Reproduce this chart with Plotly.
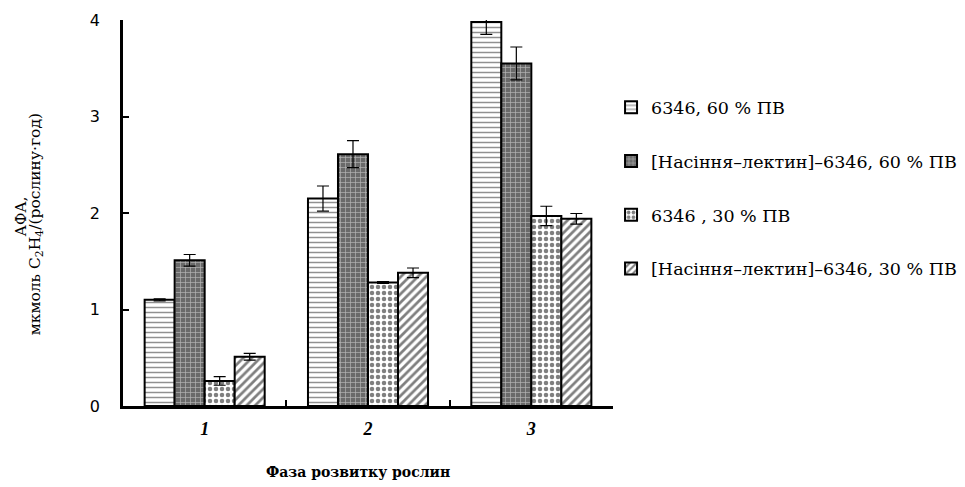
import plotly.graph_objects as go

categories = ["1", "2", "3"]
series_names = [
    "6346, 60 % ПВ",
    "[Насіння–лектин]–6346, 60 % ПВ",
    "6346 , 30 % ПВ",
    "[Насіння–лектин]–6346, 30 % ПВ",
]
values = [
    [1.10, 2.15, 3.98],
    [1.51, 2.61, 3.55],
    [0.26, 1.28, 1.97],
    [0.51, 1.38, 1.94],
]
errors = [
    [0.01, 0.13, 0.13],
    [0.06, 0.14, 0.17],
    [0.045, 0.01, 0.10],
    [0.035, 0.05, 0.055],
]

patterns = [
    dict(shape="-", fgcolor="#222", bgcolor="white", size=5, solidity=0.3),
    dict(shape="+", fgcolor="white", bgcolor="#6a6a6a", size=5, solidity=0.25),
    dict(shape=".", fgcolor="black", bgcolor="white", size=6, solidity=0.45),
    dict(shape="/", fgcolor="black", bgcolor="white", size=6, solidity=0.45),
]

fig = go.Figure()
for i, name in enumerate(series_names):
    fig.add_trace(go.Bar(
        x=categories, y=values[i], name=name,
        legendgroup=f"g{i}",
        marker=dict(color="white", pattern=patterns[i],
                    line=dict(color="black", width=2)),
        error_y=dict(type="data", array=errors[i], visible=True,
                     color="black", thickness=1.2, width=6),
    ))

fig.update_layout(
    width=965, height=487,
    margin=dict(l=115, r=360, t=12, b=89, autoexpand=False),
    paper_bgcolor="white", plot_bgcolor="white",
    barmode="group", bargap=0.265, bargroupgap=0,
    font=dict(family="DejaVu Serif", color="black", size=15),
    showlegend=True,
    legend=dict(x=0.996, y=0.82, xanchor="left", yanchor="top",
                font=dict(family="DejaVu Serif", size=17.5),
                traceorder="grouped", tracegroupgap=28,
                itemwidth=30),
    xaxis=dict(
        type="category", range=[-0.5, 2.5], automargin=False,
        showline=True, linecolor="black", linewidth=2.5,
        ticks="inside", tickson="boundaries", ticklen=6, tickwidth=2,
        tickcolor="black",
        tickfont=dict(family="Liberation Serif", size=18, color="black"),
        ticktext=["<b><i>1</i></b>", "<b><i>2</i></b>", "<b><i>3</i></b>"],
        tickvals=categories,
        ticklabelstandoff=5,
        showgrid=False,
        title=None,
    ),
    yaxis=dict(
        range=[0, 4], tickvals=[0, 1, 2, 3, 4], automargin=False,
        showline=True, linecolor="black", linewidth=2.5,
        ticks="inside", ticklen=6, tickwidth=2, tickcolor="black",
        tickfont=dict(family="DejaVu Sans", size=16, color="black"),
        ticklabelstandoff=17,
        showgrid=False, zeroline=False,
        title=None,
    ),
)

fig.add_annotation(
    text="АФА,",
    xref="paper", yref="paper", x=-0.209, y=0.49,
    xanchor="center", yanchor="middle", textangle=-90,
    showarrow=False, font=dict(family="DejaVu Serif", size=15),
)
fig.add_annotation(
    text="мкмоль C<sub>2</sub>H<sub>4</sub>/(рослину·год)",
    xref="paper", yref="paper", x=-0.178, y=0.47,
    xanchor="center", yanchor="middle", textangle=-90,
    showarrow=False, font=dict(family="DejaVu Serif", size=15.5),
)
fig.add_annotation(
    text="<b>Фаза розвитку рослин</b>",
    xref="paper", yref="paper", x=0.48, y=-0.17,
    xanchor="center", yanchor="middle",
    showarrow=False, font=dict(family="DejaVu Serif", size=14),
)

fig.write_html("out.html")
